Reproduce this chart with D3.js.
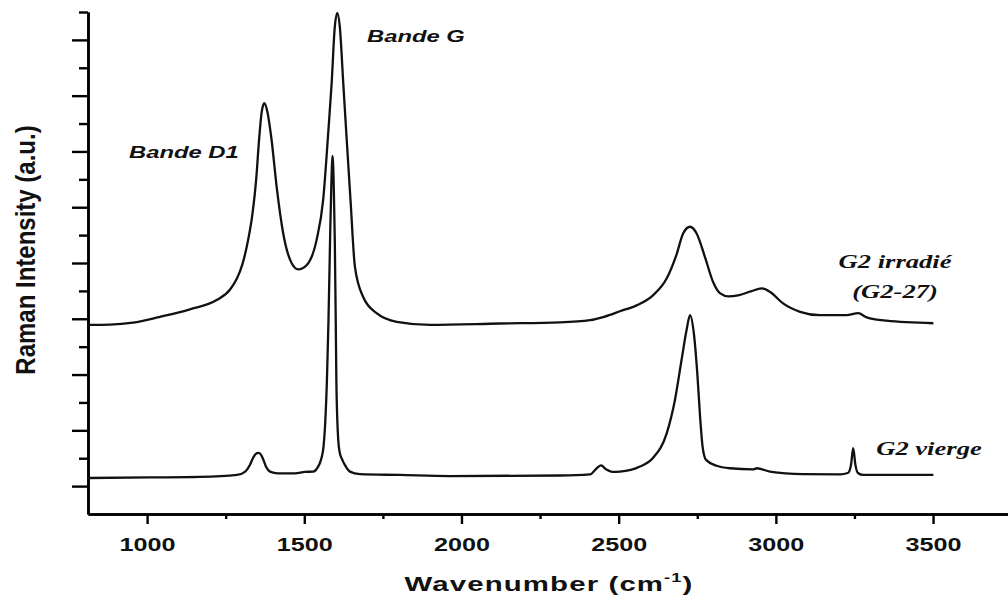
<!DOCTYPE html>
<html>
<head>
<meta charset="utf-8">
<script src="https://cdn.jsdelivr.net/npm/d3@7/dist/d3.min.js"></script>
<style>
  html, body { margin: 0; padding: 0; background: #fff; }
  svg { display: block; }
</style>
</head>
<body>
<svg id="chart" width="1008" height="598"></svg>
<script>
// ---- data (wavenumber cm^-1, intensity a.u.) ----
const irradie = [
  [812,5.78],[882,5.79],[955,5.86],[1041,6.07],[1136,6.34],[1221,6.67],[1264,7.05],
  [1286,7.45],[1303,7.95],[1320,8.75],[1335,9.75],[1347,11.0],[1356,12.4],[1365,13.45],[1373,13.73],
  [1382,13.45],[1396,12.41],[1412,10.74],[1433,9.06],[1460,7.99],[1481,7.77],[1508,7.93],
  [1539,8.82],[1560,10.26],[1576,12.65],[1587,14.44],[1597,16.47],[1605,16.97],[1613,16.47],
  [1624,14.44],[1635,12.41],[1647,10.26],[1661,7.87],[1687,6.79],[1730,6.20],[1794,5.89],
  [1900,5.78],[2122,5.83],[2313,5.87],[2409,5.95],[2456,6.08],[2504,6.27],[2557,6.48],
  [2610,6.85],[2653,7.45],[2684,8.30],[2705,9.06],[2727,9.30],[2748,9.06],[2774,8.23],
  [2801,7.30],[2822,6.92],[2850,6.80],[2880,6.84],[2920,6.98],[2955,7.09],[2981,6.97],[3023,6.55],
  [3077,6.25],[3140,6.13],[3225,6.13],[3262,6.20],[3289,6.05],[3352,5.93],[3501,5.84]
];
const vierge = [
  [812,0.29],[1009,0.31],[1168,0.33],[1286,0.40],[1311,0.51],[1327,0.76],[1337,1.01],
  [1345,1.15],[1354,1.19],[1362,1.13],[1370,0.94],[1378,0.70],[1391,0.52],[1416,0.46],
  [1470,0.46],[1502,0.51],[1528,0.52],[1543,0.68],[1553,0.94],[1561,1.40],[1567,2.37],
  [1572,3.80],[1577,5.96],[1582,8.82],[1586,10.80],[1590,11.84],[1594,10.62],[1597,8.82],
  [1600,5.96],[1602,3.80],[1605,2.37],[1608,1.65],[1613,1.19],[1620,0.97],[1629,0.76],
  [1645,0.52],[1677,0.43],[1804,0.40],[1963,0.36],[2313,0.38],[2409,0.42],[2431,0.65],
  [2444,0.74],[2460,0.60],[2479,0.51],[2504,0.52],[2568,0.70],[2609,1.01],[2653,1.90],
  [2679,3.09],[2700,4.52],[2716,5.60],[2727,6.13],[2739,5.49],[2750,4.06],[2759,2.48],
  [2767,1.41],[2778,0.94],[2812,0.73],[2854,0.64],[2927,0.60],[2940,0.64],[2981,0.52],
  [3086,0.43],[3204,0.42],[3229,0.47],[3239,0.76],[3246,1.36],[3253,0.76],[3261,0.47],
  [3278,0.40],[3501,0.40]
];
const xMajorTicks = [1000, 1500, 2000, 2500, 3000, 3500];
const xMinorTicks = [1250, 1750, 2250, 2750, 3250];
const yMajorTicks = [0, 2, 4, 6, 8, 10, 12, 14, 16];
const yMinorTicks = [1, 3, 5, 7, 9, 11, 13, 15, 17];
const annotations = [
  {text: "Bande D1", x: 1117, y: 11.78},
  {text: "Bande G", x: 1855, y: 15.92}
];
const seriesLabels = [
  {lines: ["G2 irradié", "(G2-27)"], x: 3379, y: 7.82},
  {lines: ["G2 vierge"], x: 3487, y: 1.12}
];

// ---- layout ----
const svg = d3.select("#chart");
const x = d3.scaleLinear().domain([812, 3740]).range([88, 1008.5]);
const y = d3.scaleLinear().domain([-1, 17]).range([514, 12]);
const SX = 1.4; // horizontal stretch of the lettering
const sans = "'Liberation Sans', Arial, sans-serif";
const serif = "'Liberation Serif', 'Times New Roman', serif";

// axes
const gx = svg.append("g").attr("transform", `translate(0,${y(-1)})`);
gx.call(d3.axisBottom(x).tickValues(xMajorTicks).tickSize(10).tickSizeOuter(0)
  .tickPadding(14).tickFormat(d3.format("d")));
const gx2 = svg.append("g").attr("transform", `translate(0,${y(-1)})`);
gx2.call(d3.axisBottom(x).tickValues(xMinorTicks).tickSize(5).tickSizeOuter(0).tickFormat(""));

const gy = svg.append("g").attr("transform", `translate(${x(812)},0)`);
gy.call(d3.axisLeft(y).tickValues(yMajorTicks).tickSize(16).tickSizeOuter(0).tickFormat(""));
const gy2 = svg.append("g").attr("transform", `translate(${x(812)},0)`);
gy2.call(d3.axisLeft(y).tickValues(yMinorTicks).tickSize(9).tickSizeOuter(0).tickFormat(""));

svg.selectAll(".domain").attr("stroke", "#000").attr("stroke-width", 2.6);
svg.selectAll(".tick line").attr("stroke", "#000").attr("stroke-width", 2.4);
gx.selectAll(".tick text")
  .attr("font-family", sans).attr("font-weight", "bold").attr("font-size", 18)
  .attr("fill", "#111")
  .attr("transform", `scale(${SX},1)`);

// axis titles
const xt = svg.append("text")
  .attr("transform", `translate(549,591) scale(${SX},1)`)
  .attr("text-anchor", "middle")
  .attr("font-family", sans).attr("font-weight", "bold").attr("font-size", 21)
  .attr("letter-spacing", 0.8)
  .attr("fill", "#111");
xt.append("tspan").text("Wavenumber (cm");
xt.append("tspan").attr("font-size", 13).attr("dy", -9).text("-1");
xt.append("tspan").attr("dy", 9).text(")");

svg.append("text")
  .attr("transform", `translate(35,250) scale(1.15,1) rotate(-90)`)
  .attr("text-anchor", "middle")
  .attr("font-family", sans).attr("font-weight", "bold").attr("font-size", 24)
  .attr("fill", "#111")
  .text("Raman Intensity (a.u.)");

// spectra
const line = d3.line().x(d => x(d[0])).y(d => y(d[1])).curve(d3.curveMonotoneX);
[irradie, vierge].forEach(s => {
  svg.append("path").datum(s)
    .attr("d", line)
    .attr("fill", "none")
    .attr("stroke", "#111")
    .attr("stroke-width", 2.3)
    .attr("stroke-linejoin", "round");
});

// annotations
annotations.forEach(a => {
  svg.append("text")
    .attr("transform", `translate(${x(a.x)},${y(a.y)}) scale(${SX},1)`)
    .attr("text-anchor", "middle")
    .attr("font-family", sans).attr("font-weight", "bold").attr("font-style", "italic")
    .attr("font-size", 17).attr("fill", "#111")
    .text(a.text);
});
seriesLabels.forEach(l => {
  const t = svg.append("text")
    .attr("transform", `translate(${x(l.x)},${y(l.y)}) scale(${SX},1)`)
    .attr("text-anchor", "middle")
    .attr("font-family", serif).attr("font-weight", "bold").attr("font-style", "italic")
    .attr("font-size", 19).attr("fill", "#111");
  l.lines.forEach((s, i) => t.append("tspan").attr("x", 0).attr("dy", i ? 30 : 0).text(s));
});
</script>
</body>
</html>
